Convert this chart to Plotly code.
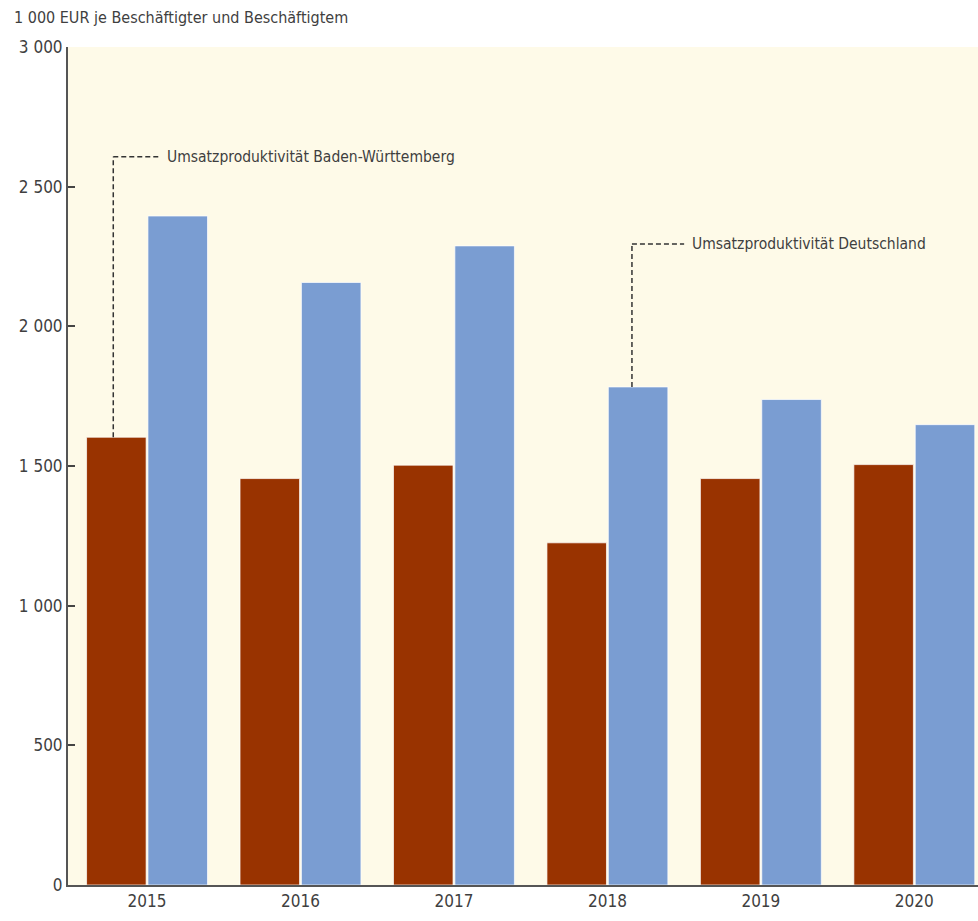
import plotly.graph_objects as go

# Turnover productivity, 1 000 EUR per employee
years = ["2015", "2016", "2017", "2018", "2019", "2020"]
bw_values = [1603, 1455, 1503, 1225, 1455, 1505]
de_values = [2395, 2157, 2288, 1783, 1738, 1648]

y_ticks = [0, 500, 1000, 1500, 2000, 2500, 3000]
y_tick_labels = ["0", "500", "1 000", "1 500", "2 000", "2 500", "3 000"]

label_bw = "Umsatzproduktivität Baden-Württemberg"
label_de = "Umsatzproduktivität Deutschland"
axis_title = "1 000 EUR je Beschäftigter und Beschäftigtem"

FONT = "DejaVu Sans Condensed, Liberation Sans Narrow, sans-serif"
TEXT_COLOR = "#3f3f3f"
BW_COLOR = "#993300"
DE_COLOR = "#7a9dd2"

x_idx = list(range(len(years)))

fig = go.Figure()
fig.add_trace(go.Bar(
    x=x_idx, y=bw_values, name=label_bw,
    marker=dict(color=BW_COLOR, line=dict(color="rgba(255,255,255,0.7)", width=1)),
))
fig.add_trace(go.Bar(
    x=x_idx, y=de_values, name=label_de,
    marker=dict(color=DE_COLOR, line=dict(color="rgba(255,255,255,0.7)", width=1)),
))

# Leader lines from the bars to their labels
bw_x = x_idx[0] - 0.22
de_x = x_idx[3] + 0.16
bw_label_y = 2607
de_label_y = 2295
line_style = dict(color="#333333", width=1.5, dash="5px,3px")
fig.add_shape(type="line", x0=bw_x, x1=bw_x, y0=bw_values[0], y1=bw_label_y, line=line_style)
fig.add_shape(type="line", x0=bw_x, x1=0.085, y0=bw_label_y, y1=bw_label_y, line=line_style)
fig.add_shape(type="line", x0=de_x, x1=de_x, y0=de_values[3], y1=de_label_y, line=line_style)
fig.add_shape(type="line", x0=de_x, x1=3.50, y0=de_label_y, y1=de_label_y, line=line_style)

fig.add_annotation(x=0.12, y=bw_label_y, text=label_bw, showarrow=False,
                   xanchor="left", yanchor="middle",
                   font=dict(family=FONT, size=15.5, color=TEXT_COLOR))
fig.add_annotation(x=3.535, y=de_label_y, text=label_de, showarrow=False,
                   xanchor="left", yanchor="middle",
                   font=dict(family=FONT, size=15.5, color=TEXT_COLOR))

fig.add_annotation(xref="paper", yref="paper", x=-0.062, y=1.0, yshift=30,
                   text=axis_title, showarrow=False, xanchor="left", yanchor="middle",
                   font=dict(family=FONT, size=16, color=TEXT_COLOR))

fig.update_layout(
    width=978, height=921,
    margin=dict(l=68, r=0, t=47, b=36),
    paper_bgcolor="white",
    plot_bgcolor="#fefae8",
    barmode="group",
    bargap=0.2,
    bargroupgap=0.03,
    showlegend=False,
    font=dict(family=FONT, size=17, color=TEXT_COLOR),
)
fig.update_xaxes(
    range=[-0.515, 5.415],
    tickvals=x_idx, ticktext=years,
    showgrid=False, zeroline=False,
    showline=True, linecolor="#555555", linewidth=2,
    ticks="", tickfont=dict(family=FONT, size=17, color=TEXT_COLOR),
)
fig.update_yaxes(
    range=[0, 3000],
    tickvals=y_ticks, ticktext=y_tick_labels,
    showgrid=False, zeroline=False,
    showline=True, linecolor="#555555", linewidth=2,
    ticks="inside", ticklen=7, tickwidth=2, tickcolor="#444444",
    tickfont=dict(family=FONT, size=17, color=TEXT_COLOR),
)

fig.write_html("out.html")
